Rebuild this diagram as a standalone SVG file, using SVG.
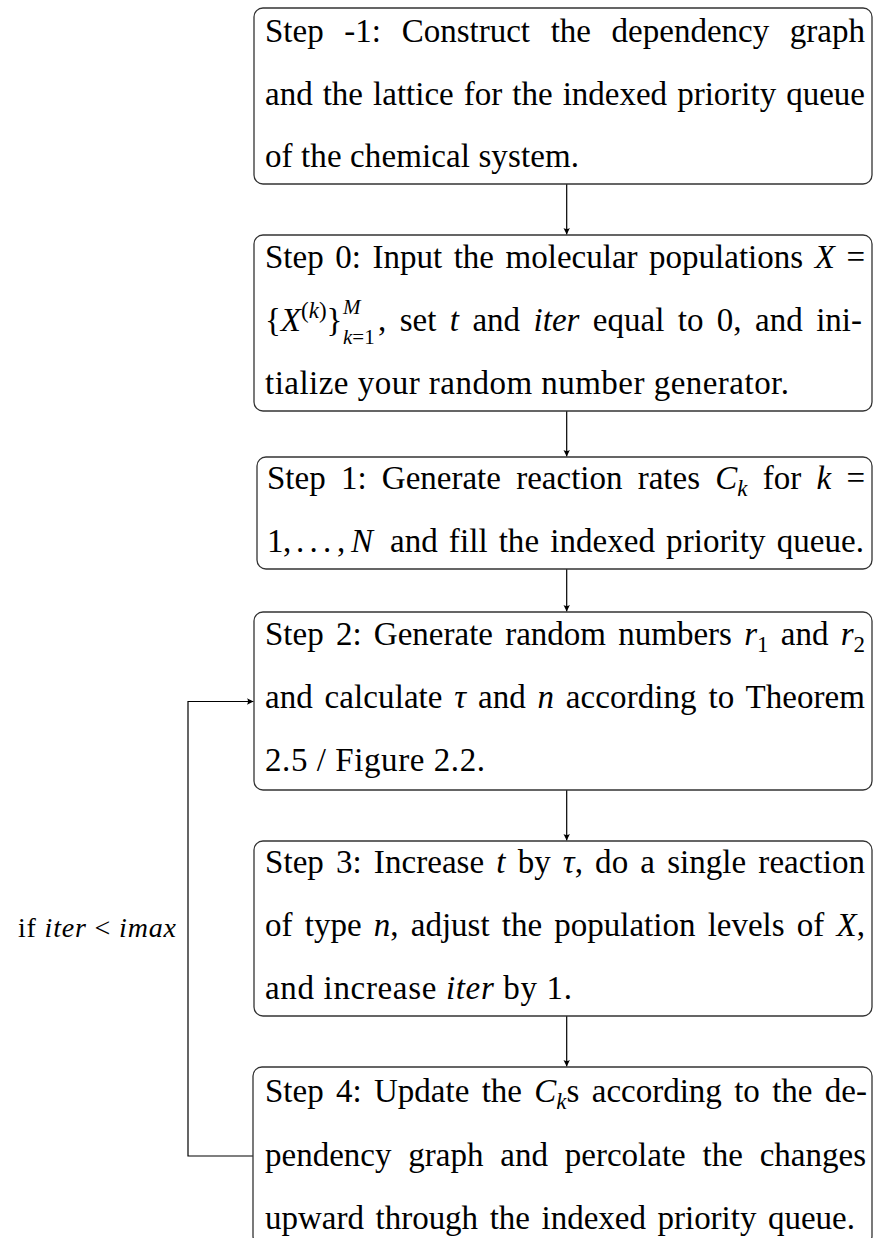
<svg xmlns="http://www.w3.org/2000/svg" width="873" height="1238" viewBox="0 0 873 1238">
<style>
text{font-family:"Liberation Serif","Times New Roman",serif;font-size:33px;fill:#000}
.m{font-style:italic}
.s{font-size:23px}
.ss{font-size:21px}
.box{fill:#fff;stroke:#333;stroke-width:1.3}
.lbl{font-size:28px}
.c{fill:none;stroke:#000;stroke-width:1.2}
</style>
<defs>
<marker id="ah" markerUnits="userSpaceOnUse" markerWidth="12" markerHeight="12" viewBox="-8 -6 10 12" refX="0" refY="0" orient="auto">
<path d="M0,0 L-6.5,-3.2 Q-4.5,0 -6.5,3.2 Z" fill="#000"/>
</marker>
</defs>
<rect width="873" height="1238" fill="#fff"/>
<g id="connectors">
<line class="c" x1="566.7" y1="184" x2="566.7" y2="234.5" marker-end="url(#ah)"/>
<line class="c" x1="566.7" y1="411" x2="566.7" y2="456.5" marker-end="url(#ah)"/>
<line class="c" x1="566.7" y1="569" x2="566.7" y2="611.5" marker-end="url(#ah)"/>
<line class="c" x1="566.7" y1="790" x2="566.7" y2="840.5" marker-end="url(#ah)"/>
<line class="c" x1="566.7" y1="1016" x2="566.7" y2="1066.5" marker-end="url(#ah)"/>
<polyline class="c" points="253,1156 188,1156 188,701.5 253.5,701.5" marker-end="url(#ah)"/>
<text class="lbl" x="18" y="937" textLength="158">if <tspan class="m">iter</tspan> &lt; <tspan class="m">imax</tspan></text>
</g>
<g id="step-minus1">
<rect class="box" x="254" y="8" width="618" height="176" rx="9"/>
<text x="265" y="42" textLength="600" word-spacing="12.4">Step -1: Construct the dependency graph</text>
<text x="265" y="105" textLength="600" word-spacing="1.8">and the lattice for the indexed priority queue</text>
<text x="265" y="167" textLength="314">of the chemical system.</text>
</g>
<g id="step0">
<rect class="box" x="254" y="235" width="618" height="176" rx="9"/>
<text x="265" y="268" textLength="600" word-spacing="3.3">Step 0: Input the molecular populations <tspan class="m">X</tspan> =</text>
<text x="265" y="331">{<tspan class="m">X</tspan><tspan class="s" baseline-shift="13">(<tspan class="m">k</tspan>)</tspan>}</text>
<text class="ss m" x="343" y="314">M</text>
<text class="ss" x="343" y="344"><tspan class="m">k</tspan>=1</text>
<text x="378" y="331" textLength="484" word-spacing="5.2">, set <tspan class="m">t</tspan> and <tspan class="m">iter</tspan> equal to 0, and ini-</text>
<text x="265" y="394" textLength="524">tialize your random number generator.</text>
</g>
<g id="step1">
<rect class="box" x="257" y="457" width="615" height="112" rx="9"/>
<text x="267" y="489" textLength="598" word-spacing="7">Step 1: Generate reaction rates <tspan class="m">C</tspan><tspan class="s m" baseline-shift="-7">k</tspan> for <tspan class="m">k</tspan> =</text>
<text y="552"><tspan x="267">1</tspan><tspan x="283">,</tspan><tspan x="296">.</tspan><tspan x="309.5">.</tspan><tspan x="323">.</tspan><tspan x="337">,</tspan><tspan x="351" class="m">N</tspan></text>
<text x="390" y="552" textLength="474" word-spacing="2.7">and fill the indexed priority queue.</text>
</g>
<g id="step2">
<rect class="box" x="254" y="612" width="618" height="178" rx="9"/>
<text x="265" y="645" textLength="600" word-spacing="4">Step 2: Generate random numbers <tspan class="m">r</tspan><tspan class="s" baseline-shift="-7">1</tspan> and <tspan class="m">r</tspan><tspan class="s" baseline-shift="-7">2</tspan></text>
<text x="265" y="708" textLength="600" word-spacing="3.4">and calculate <tspan class="m">τ</tspan> and <tspan class="m">n</tspan> according to Theorem</text>
<text x="265" y="771" textLength="220">2.5 / Figure 2.2.</text>
</g>
<g id="step3">
<rect class="box" x="254" y="841" width="618" height="175" rx="9"/>
<text x="265" y="873" textLength="600" word-spacing="3.8">Step 3: Increase <tspan class="m">t</tspan> by <tspan class="m">τ</tspan>, do a single reaction</text>
<text x="265" y="936" textLength="600" word-spacing="4">of type <tspan class="m">n</tspan>, adjust the population levels of <tspan class="m">X</tspan>,</text>
<text x="265" y="999" textLength="307">and increase <tspan class="m">iter</tspan> by 1.</text>
</g>
<g id="step4">
<rect class="box" x="253" y="1067" width="619" height="178" rx="9"/>
<text x="265" y="1102" textLength="602" word-spacing="4.1">Step 4: Update the <tspan class="m">C</tspan><tspan class="s m" baseline-shift="-7">k</tspan>s according to the de-</text>
<text x="265" y="1166" textLength="601" word-spacing="8.6">pendency graph and percolate the changes</text>
<text x="265" y="1229" textLength="590" word-spacing="3.3">upward through the indexed priority queue.</text>
</g>
</svg>
